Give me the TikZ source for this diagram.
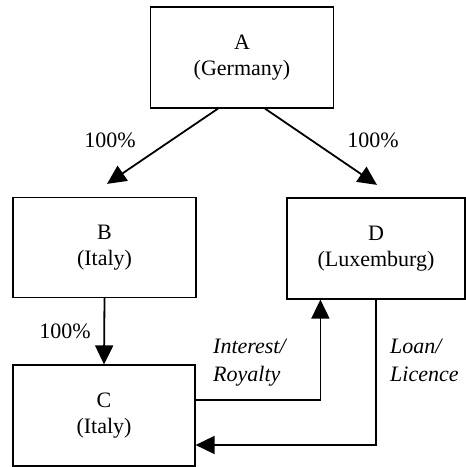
\documentclass[tikz,border=0pt]{standalone}
\usepackage{fontspec}
\setmainfont{Liberation Serif}
\usetikzlibrary{arrows.meta,calc}
\begin{document}
\begin{tikzpicture}[x=1pt,y=-1pt]
\tikzset{
 entity/.style={draw, line width=1.2pt, align=center, inner sep=0pt, font=\fontsize{22}{26}\selectfont},
 flow/.style={line width=1.8pt, -{Triangle[length=19pt,width=18pt]}},
 lbl/.style={font=\fontsize{22}{28}\selectfont, inner sep=0pt},
 ilbl/.style={font=\fontsize{22}{28}\selectfont\itshape, align=left, inner sep=0pt, anchor=north west},
}
\useasboundingbox (0,0) rectangle (466,467);
\node[entity, minimum width=183pt, minimum height=101pt] (A) at (242,57.5) {A\\(Germany)};
\node[entity, minimum width=183pt, minimum height=100pt] (B) at (104.5,247.5) {B\\(Italy)};
\node[entity, minimum width=182pt, minimum height=101pt] (C) at (104,415.5) {C\\(Italy)};
\node[entity, minimum width=178pt, minimum height=101pt] (D) at (376,248.5) {D\\(Luxemburg)};

\node[lbl] (pAB) at (110,140) {100\%};
\node[lbl] (pAD) at (373,140) {100\%};
\node[lbl] (pBC) at (65,331) {100\%};
\node[ilbl] (ir) at (213,339) {Interest/\\Royalty};
\node[ilbl] (ll) at (390,339) {Loan/\\Licence};

\draw[flow] ($(A.south)+(-24,0)$) -- ($(B.north)+(2.5,-13)$);
\draw[flow] ($(A.south)+(23,0)$) -- ($(D.north)+(1,-12.5)$);
\draw[flow] (B.south) -- (C.north);
\draw[flow] ($(C.east)+(0,-15.5)$) -| ($(D.south west)+(34,0)$);
\draw[flow] (D.south) |- ($(C.east)+(0,29.5)$);
\end{tikzpicture}
\end{document}
